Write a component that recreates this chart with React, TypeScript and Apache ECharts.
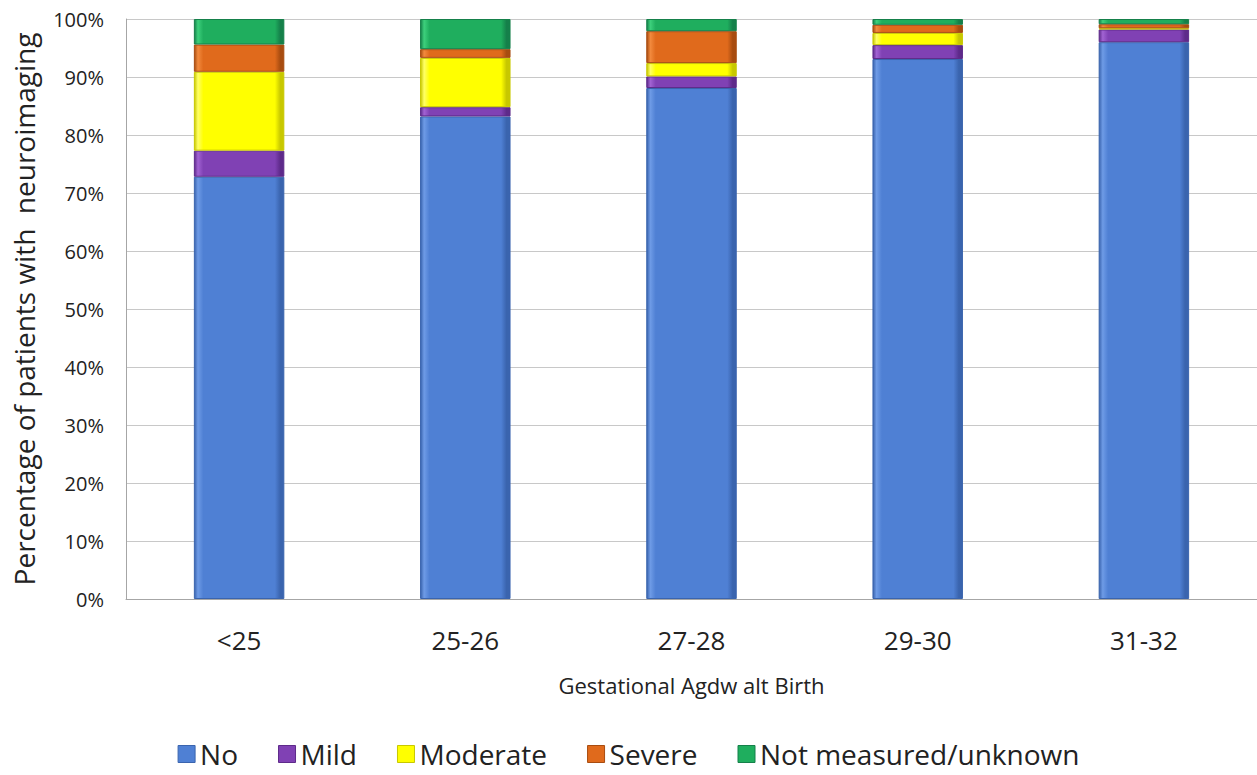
import React, { useEffect, useRef } from "react";
import * as echarts from "echarts";

// Gestational age groups
const categories = ["<25", "25-26", "27-28", "29-30", "31-32"];

// Share of patients (%) per neuroimaging finding
const noFinding = [72.8, 83.2, 88.1, 93.1, 96.0];
const mild = [4.5, 1.6, 2.0, 2.4, 2.2];
const moderate = [13.6, 8.5, 2.3, 2.1, 0.2];
const severe = [4.7, 1.5, 5.5, 1.4, 0.7];
const notMeasured = [4.4, 5.2, 2.1, 1.0, 0.9];

const yTicks = [0, 10, 20, 30, 40, 50, 60, 70, 80, 90, 100];

const seriesDefs = [
  { name: "No", data: noFinding, color: "#4F80D4", light: "#6E9BE6", dark: "#3A64AE" },
  { name: "Mild", data: mild, color: "#8041B4", light: "#A263D3", dark: "#5E2A8A" },
  { name: "Moderate", data: moderate, color: "#FFFF00", light: "#FFFF66", dark: "#C8C800" },
  { name: "Severe", data: severe, color: "#E06A1C", light: "#F28A3E", dark: "#A84C10" },
  { name: "Not measured/unknown", data: notMeasured, color: "#1FAE5E", light: "#3DD07C", dark: "#15804A" },
];

const FONT = "'Open Sans', 'Noto Sans', sans-serif";

export default function App() {
  const ref = useRef<HTMLDivElement>(null);

  useEffect(() => {
    if (!ref.current) return;
    const chart = echarts.init(ref.current, undefined, { renderer: "svg" });

    const bevel = (c: { color: string; light: string; dark: string }) =>
      new echarts.graphic.LinearGradient(0, 0, 1, 0, [
        { offset: 0, color: c.dark },
        { offset: 0.04, color: c.light },
        { offset: 0.1, color: c.color },
        { offset: 0.9, color: c.color },
        { offset: 0.96, color: c.dark },
        { offset: 1, color: c.dark },
      ]);

    chart.setOption({
      animation: false,
      backgroundColor: "#ffffff",
      grid: { left: 126, right: 0, top: 19, bottom: 176, containLabel: false, outerBoundsMode: "none" },
      legend: {
        top: 737,
        left: "center",
        itemWidth: 17,
        itemHeight: 17,
        itemGap: 40,
        icon: "rect",
        padding: 0,
        textStyle: { fontFamily: FONT, fontSize: 28, lineHeight: 34, color: "#222" },
        data: seriesDefs.map((s) => ({ name: s.name, itemStyle: { color: s.color, borderColor: s.dark, borderWidth: 1 } })),
      },
      xAxis: {
        type: "category",
        data: categories,
        name: "Gestational Agdw alt Birth",
        nameLocation: "middle",
        nameGap: 75,
        nameTextStyle: { fontFamily: FONT, fontSize: 22, color: "#222" },
        axisLine: { show: true, lineStyle: { color: "#a6a6a6", width: 1 } },
        axisTick: { show: false },
        axisLabel: { fontFamily: FONT, fontSize: 26, color: "#222", margin: 28 },
      },
      yAxis: {
        type: "value",
        min: 0,
        max: 100,
        interval: 10,
        name: "Percentage of patients with  neuroimaging",
        nameLocation: "middle",
        nameGap: 88,
        nameTextStyle: { fontFamily: FONT, fontSize: 28, color: "#222" },
        axisLine: { show: true, lineStyle: { color: "#a6a6a6", width: 1 } },
        axisTick: { show: false },
        splitLine: { show: true, lineStyle: { color: "#c8c8c8", width: 1 } },
        axisLabel: {
          fontFamily: FONT,
          fontSize: 20,
          color: "#222",
          margin: 22,
          formatter: (v: number) => (yTicks.includes(v) ? `${v}%` : ""),
        },
      },
      series: seriesDefs.map((s) => ({
        name: s.name,
        type: "bar",
        stack: "total",
        barWidth: "40%",
        data: s.data,
        itemStyle: { color: bevel(s), borderColor: s.dark, borderWidth: 1 },
        emphasis: { disabled: true },
      })),
    });

    return () => chart.dispose();
  }, []);

  return (
    <div
      ref={ref}
      style={{ position: "fixed", left: 0, top: 0, width: 1257, height: 775 }}
    />
  );
}
